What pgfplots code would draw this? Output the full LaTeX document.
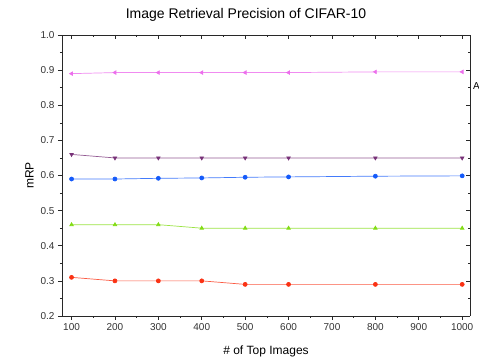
\documentclass[border=0pt]{standalone}
\usepackage{pgfplots}
\pgfplotsset{compat=1.18}
\usepackage{fontspec}
\setmainfont{Liberation Sans}
\definecolor{cpink}{RGB}{236,110,236}
\definecolor{cpurple}{RGB}{120,50,120}
\definecolor{cblue}{RGB}{20,90,250}
\definecolor{cgreen}{RGB}{130,220,20}
\definecolor{cred}{RGB}{250,50,20}
\definecolor{axgray}{RGB}{40,40,40}
\begin{document}
\begin{tikzpicture}
\useasboundingbox (-62pt,-47pt) rectangle (417pt,316pt);
\pgfplotsset{myax/.style={
  scale only axis, width=408pt, height=281pt,
  xmin=78, xmax=1018, ymin=0.2, ymax=1.0,
  xtick={100,200,...,1000}, ytick={0.2,0.3,...,1.0},
  minor x tick num=1, minor y tick num=1,
  major tick length=4pt, minor tick length=2pt,
  every tick/.style={axgray, line width=0.6pt},
  axis line style={axgray, line width=0.8pt},
  /pgf/number format/assume math mode=true,
  tick label style={font=\fontsize{10}{12}\selectfont, text=black!80},
}}
\begin{axis}[myax,
  axis x line*=bottom, axis y line*=left, tick align=outside,
  yticklabel style={/pgf/number format/.cd, fixed, fixed zerofill, precision=1},
  xticklabel style={/pgf/number format/.cd, 1000 sep={}},
  title={Image Retrieval Precision of CIFAR-10},
  title style={font=\fontsize{14}{16}\selectfont, yshift=4pt, xshift=-20pt},
  xlabel={\# of Top Images}, ylabel={mRP},
  label style={font=\fontsize{12}{14}\selectfont},
  xlabel style={yshift=-8pt}, ylabel style={yshift=0pt},
  every axis plot/.append style={line width=0.7pt, mark size=2pt},
  clip=false,
]
\addplot[color=cpink!80, mark=triangle*, mark options={rotate=90, fill=cpink, draw=cpink}] coordinates {
(100,0.890) (200,0.893) (300,0.893) (400,0.893) (500,0.893) (600,0.893) (800,0.895) (1000,0.895)};
\addplot[color=cpurple!80, mark=triangle*, mark options={rotate=180, fill=cpurple, draw=cpurple}] coordinates {
(100,0.660) (200,0.650) (300,0.650) (400,0.650) (500,0.650) (600,0.650) (800,0.650) (1000,0.650)};
\addplot[color=cblue!80, mark=*, mark options={fill=cblue, draw=cblue}] coordinates {
(100,0.590) (200,0.590) (300,0.592) (400,0.593) (500,0.595) (600,0.596) (800,0.598) (1000,0.599)};
\addplot[color=cgreen!80, mark=triangle*, mark options={fill=cgreen, draw=cgreen}] coordinates {
(100,0.460) (200,0.460) (300,0.460) (400,0.450) (500,0.450) (600,0.450) (800,0.450) (1000,0.450)};
\addplot[color=cred!80, mark=*, mark options={fill=cred, draw=cred}] coordinates {
(100,0.310) (200,0.300) (300,0.300) (400,0.300) (500,0.290) (600,0.290) (800,0.290) (1000,0.290)};
\node[anchor=west, font=\fontsize{10}{12}\selectfont, inner sep=0pt] at (rel axis cs:1,0.82) {\hspace{3pt}A};
\end{axis}
\begin{axis}[myax,
  axis x line*=top, axis y line*=right, tick align=inside,
  xticklabels={}, yticklabels={},
]
\end{axis}
\end{tikzpicture}
\end{document}
